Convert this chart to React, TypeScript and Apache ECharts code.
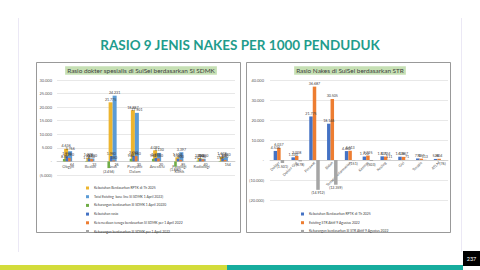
import React, { useEffect, useRef } from 'react';
import * as echarts from 'echarts';

const FONT = 'Lato, "Liberation Sans", sans-serif';

// ---- Left chart: Rasio dokter spesialis di SulSel berdasarkan SI SDMK ----
const leftCategories = ['Obgyn', 'Bedah', 'Anak', 'Penyakit\nDalam', 'Anestesi', 'Patologi\nKlinik', 'Radiologi', ''];
const leftNeedRptk = [4636, 1278, 21775, 18887, 4091, 1517, 1253, 1638];
const leftExisting = [3766, 1100, 24231, 17901, 3130, 3397, 1000, 1480];
const leftShortage = [870, 178, -2456, 986, 961, -1880, 253, 158];
const leftNeedRatio = [1950, 990, 1980, 2050, 1301, 1025, 900, 1100];
const leftAvailable = [1290, 850, 380, 1960, 1100, 600, 790, 560];
const leftShortageApr = [64, 23, 26, 30, 20, 85, 40, 154];

const leftNames = [
  'Kebutuhan Berdasarkan RPTK di Th 2025',
  'Total Existing  base line SI SDMK 1 April 2022)',
  'Kekurangan berdasarkan SI SDMK 1 April 20220',
  'Kebutuhan rasio',
  'Ketersediaan tenaga berdasarkan SI SDMK per 1 April 2022',
  'Kekurangan berdasarkan SI SDMK per 1 April 2022',
];

// ---- Right chart: Rasio Nakes di SulSel berdasarkan STR ----
const rightCategories = ['Dokter', 'Dokter Gigi', 'Perawat', 'Bidan', 'Tenaga Kefarmasian', 'Kesmas', 'Kesling', 'Gizi', 'Terapis', 'ATLM'];
const rightNeed = [4536, 1330, 21775, 18146, 4462, 1722, 1835, 1638, 770, 528];
const rightExisting = [6037, 2008, 36687, 30505, 4613, 2225, 1724, 1567, 657, 604];
const rightShortage = [-1501, -678, -14912, -12359, -151, -503, 111, 71, 113, -76];

const rightNames = [
  'Kebutuhan Berdasarkan RPTK di Th 2025 (STR)',
  'Existing STR Aktif 9 Agustus 2022',
  'Kekurangan berdasarkan SI STR Aktif 9 Agustus 2022',
];

const fmt = (v: number) => {
  if (v === 0) return '-';
  const s = Math.round(Math.abs(v)).toString().replace(/\B(?=(\d{3})+(?!\d))/g, '.');
  return v < 0 ? `(${s})` : s;
};

const labelStyle = {
  show: true,
  fontSize: 3.6,
  color: '#404040',
  fontFamily: FONT,
  distance: 1,
  formatter: (p: any) => fmt(p.value),
};

const mkData = (arr: number[], forceBottom = false) =>
  arr.map((v) => ({ value: v, label: { position: forceBottom || v < 0 ? 'bottom' : 'top' } }));

export default function App() {
  const ref = useRef<HTMLDivElement>(null);
  useEffect(() => {
    if (!ref.current) return;
    const chart = echarts.init(ref.current, undefined, { renderer: 'svg' });
    const leftColors = ['#EDB52E', '#5B9BD5', '#70AD47', '#4472C4', '#ED7D31', '#A5A5A5'];
    const rightColors = ['#4472C4', '#ED7D31', '#A5A5A5'];
    const leftData = [leftNeedRptk, leftExisting, leftShortage, leftNeedRatio, leftAvailable, leftShortageApr];
    const rightData = [rightNeed, rightExisting, rightShortage];

    const series: any[] = [];
    leftData.forEach((arr, i) => {
      const primary = i < 2;
      series.push({
        type: 'bar',
        name: leftNames[i],
        xAxisIndex: primary ? 0 : 1,
        yAxisIndex: 0,
        data: mkData(arr, i === 5),
        barWidth: primary ? 4 : 2.6,
        barGap: '0%',
        itemStyle: { color: leftColors[i] },
        label: labelStyle,
        z: primary ? 2 : 3,
      });
    });
    rightData.forEach((arr, i) => {
      series.push({
        type: 'bar',
        name: rightNames[i],
        xAxisIndex: 2,
        yAxisIndex: 1,
        data: mkData(arr),
        barWidth: 3.5,
        barGap: '0%',
        itemStyle: { color: rightColors[i] },
        label: labelStyle,
      });
    });

    const axisLabel = { fontSize: 4, color: '#595959', fontFamily: FONT };
    const splitLine = { show: true, lineStyle: { color: '#d9d9d9', width: 0.6 } };
    const xLine = { show: true, onZero: false, lineStyle: { color: '#bfbfbf', width: 0.6 } };

    const legendCommon = {
      orient: 'vertical',
      itemWidth: 3,
      itemHeight: 3,
      icon: 'rect',
      textStyle: { fontSize: 3.4, color: '#404040', fontFamily: FONT, lineHeight: 4 },
      itemGap: 4.7,
      selectedMode: false,
    };

    chart.setOption({
      animation: false,
      backgroundColor: '#ffffff',
      grid: [
        { left: 57, right: 245, top: 80, bottom: 95 },
        { left: 270, right: 32, top: 80, bottom: 70 },
      ],
      xAxis: [
        {
          type: 'category', gridIndex: 0, data: leftCategories, position: 'bottom', offset: -13.6,
          axisTick: { show: false }, axisLine: xLine,
          axisLabel: { ...axisLabel, interval: 0, margin: 3, lineHeight: 5 },
        },
        { type: 'category', gridIndex: 0, data: leftCategories, show: false },
        {
          type: 'category', gridIndex: 1, data: rightCategories, position: 'bottom', offset: -40,
          axisTick: { show: false }, axisLine: xLine,
          axisLabel: { ...axisLabel, fontSize: 3.8, interval: 0, rotate: 45, margin: 2 },
        },
      ],
      yAxis: [
        {
          type: 'value', gridIndex: 0, min: -5000, max: 30000, interval: 5000,
          splitLine, axisLine: { show: false }, axisTick: { show: false },
          axisLabel: { ...axisLabel, margin: 5, formatter: (v: number) => fmt(v) },
        },
        {
          type: 'value', gridIndex: 1, min: -20000, max: 40000, interval: 10000,
          splitLine, axisLine: { show: false }, axisTick: { show: false },
          axisLabel: { ...axisLabel, margin: 6, formatter: (v: number) => fmt(v) },
        },
      ],
      legend: [
        { ...legendCommon, data: leftNames, left: 81, top: 181 },
        {
          ...legendCommon, data: rightNames, left: 296, top: 207,
          formatter: (n: string) => n.replace(' (STR)', ''),
        },
      ],
      graphic: [
        { type: 'line', shape: { x1: 18.5, y1: 18, x2: 18.5, y2: 252 }, style: { stroke: '#ebe8f5', lineWidth: 1 } },
        { type: 'line', shape: { x1: 461.5, y1: 18, x2: 461.5, y2: 252 }, style: { stroke: '#ebe8f5', lineWidth: 1 } },
        {
          type: 'text', x: 240, y: 45,
          style: { text: 'RASIO 9 JENIS NAKES PER 1000 PENDUDUK', fontSize: 13.5, fontWeight: 'bold', fill: '#1f9c8c', align: 'center', verticalAlign: 'middle', fontFamily: FONT },
        },
        { type: 'rect', shape: { x: 36.5, y: 62.5, width: 204, height: 170 }, style: { fill: 'none', stroke: '#7f7f7f', lineWidth: 0.8 } },
        { type: 'rect', shape: { x: 246.5, y: 62.5, width: 204, height: 170 }, style: { fill: 'none', stroke: '#7f7f7f', lineWidth: 0.8 } },
        {
          type: 'text', x: 141, y: 70.5,
          style: { text: 'Rasio dokter spesialis di SulSel berdasarkan SI SDMK', fontSize: 6.4, fill: '#404040', align: 'center', verticalAlign: 'middle', fontFamily: FONT, backgroundColor: '#c6e0b4', padding: [1.2, 2] },
        },
        {
          type: 'text', x: 350, y: 70.5,
          style: { text: 'Rasio Nakes di SulSel berdasarkan STR', fontSize: 6.4, fill: '#404040', align: 'center', verticalAlign: 'middle', fontFamily: FONT, backgroundColor: '#c6e0b4', padding: [1.2, 2] },
        },
        { type: 'rect', shape: { x: 0, y: 265, width: 227, height: 5 }, style: { fill: '#d3dc3b' } },
        { type: 'rect', shape: { x: 227, y: 265, width: 236, height: 5 }, style: { fill: '#17ad9e' } },
        { type: 'rect', shape: { x: 463, y: 251, width: 17, height: 15 }, style: { fill: '#000000' } },
        {
          type: 'text', x: 471.5, y: 258.5,
          style: { text: '237', fontSize: 5.5, fill: '#ffffff', align: 'center', verticalAlign: 'middle', fontFamily: FONT },
        },
      ],
      series,
    });
    return () => chart.dispose();
  }, []);
  return <div ref={ref} style={{ position: 'fixed', left: 0, top: 0, width: 480, height: 270 }} />;
}
